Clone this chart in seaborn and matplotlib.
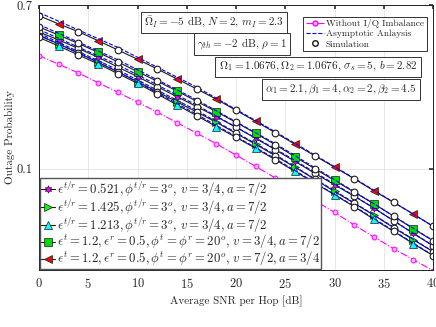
import numpy as np
import matplotlib
matplotlib.use('Agg')
import matplotlib.pyplot as plt
from matplotlib.lines import Line2D
from matplotlib.ticker import NullLocator
import seaborn as sns

sns.set_theme(style='whitegrid')
plt.rcParams['font.family'] = ['cmr10', 'DejaVu Serif']
plt.rcParams['mathtext.fontset'] = 'cm'
plt.rcParams['axes.formatter.use_mathtext'] = True

snr = [0, 2, 4, 6, 8, 10, 12, 14, 16, 18, 20, 22, 24, 26, 28, 30, 32, 34, 36, 38, 40]

no_iq = [0.3835, 0.346, 0.312, 0.278, 0.248, 0.2206, 0.196, 0.173, 0.1527, 0.1344, 0.1176,
         0.1027, 0.0895, 0.0783, 0.0684, 0.0595, 0.0512, 0.0444, 0.0387, 0.0339, 0.0298]
# v=7/2, a=3/4 (red)
red = [0.6164, 0.5587, 0.5097, 0.4581, 0.4102, 0.3673, 0.3273, 0.2908, 0.2582, 0.2286, 0.2001,
       0.1756, 0.1532, 0.1337, 0.1166, 0.1019, 0.0887, 0.0769, 0.0670, 0.0584, 0.0504]
green_sq = [0.539, 0.490, 0.443, 0.399, 0.356, 0.317, 0.283, 0.252, 0.223, 0.197, 0.1735,
            0.1523, 0.1329, 0.1152, 0.0999, 0.0870, 0.0757, 0.0659, 0.0569, 0.0490, 0.0425]
magenta = [0.508, 0.462, 0.4175, 0.376, 0.335, 0.2987, 0.2652, 0.2355, 0.2093, 0.1858, 0.1636,
           0.1435, 0.1252, 0.1090, 0.0947, 0.0826, 0.0721, 0.0627, 0.0539, 0.0463, 0.0400]
green_tri = [0.487, 0.4405, 0.396, 0.354, 0.316, 0.2815, 0.250, 0.2213, 0.1965, 0.1735, 0.1523,
             0.1336, 0.1166, 0.1017, 0.0882, 0.0763, 0.0663, 0.0575, 0.0496, 0.0430, 0.0373]
cyan = [0.476, 0.430, 0.3865, 0.3475, 0.310, 0.276, 0.2432, 0.2136, 0.188, 0.165, 0.1452,
        0.1274, 0.1112, 0.0968, 0.0843, 0.0734, 0.0637, 0.0548, 0.0475, 0.0410, 0.0356]

snr_asym = [0, 8, 16, 24, 32, 40]
asym_red = [0.64, 0.423, 0.264, 0.155, 0.0893, 0.0505]
asym_green_sq = [0.555, 0.365, 0.227, 0.1345, 0.0762, 0.0426]
asym_magenta = [0.523, 0.344, 0.213, 0.1265, 0.0725, 0.0401]
asym_green_tri = [0.50, 0.324, 0.20, 0.118, 0.0667, 0.0374]
asym_cyan = [0.49, 0.318, 0.191, 0.1125, 0.064, 0.0357]

labels = [
    r'$\epsilon^{t/r}=0.521, \phi^{t/r}=3^o,\, v=3/4, a=7/2$',
    r'$\epsilon^{t/r}=1.425, \phi^{t/r}=3^o,\, v=3/4, a=7/2$',
    r'$\epsilon^{t/r}=1.213, \phi^{t/r}=3^o,\, v=3/4, a=7/2$',
    r'$\epsilon^{t}=1.2, \epsilon^{r}=0.5, \phi^{t}=\phi^{r}=20^o,\, v=3/4, a=7/2$',
    r'$\epsilon^{t}=1.2, \epsilon^{r}=0.5, \phi^{t}=\phi^{r}=20^o,\, v=7/2, a=3/4$',
]
curves = [magenta, green_tri, cyan, green_sq, red]
asyms = [asym_magenta, asym_green_tri, asym_cyan, asym_green_sq, asym_red]
marks = [(6, 1, 0), '>', '^', 's', '<']
faces = ['#ff00ff', '#00ff00', '#00ffff', '#00dd00', '#ff0000']

W, H = 436, 327
fig = plt.figure(figsize=(W / 100, H / 100), dpi=100)
ax = fig.add_axes([39 / W, 57 / H, 394 / W, 265 / H])

sns.lineplot(x=snr, y=no_iq, ax=ax, color='#ff00ff', linestyle='-.', lw=0.8,
             marker='o', ms=3.5, mfc='#ffb0ff', mec='#ff00ff', mew=0.7)

for vals, m, fc in zip(curves, marks, faces):
    sns.lineplot(x=snr, y=vals, ax=ax, color='k', lw=0.8, marker=m, ms=5.3,
                 mfc=fc, mec='k', mew=0.5, markevery=slice(1, None, 2))
for vals in asyms:
    sns.lineplot(x=snr_asym, y=vals, ax=ax, color='#0000ff', linestyle='--', lw=0.8)
for vals in curves:
    sns.lineplot(x=snr, y=vals, ax=ax, color='k', linestyle='', marker='o', ms=4.8,
                 mfc='white', mec='k', mew=0.8, markevery=slice(0, None, 2))

ax.set_yscale('log')
ax.set_xlim(0, 40)
ax.set_ylim(0.03, 0.7)
ax.set_xticks(range(0, 41, 5))
ax.set_yticks([0.1, 0.7])
ax.set_yticklabels(['0.1', '0.7'])
ax.yaxis.set_minor_locator(NullLocator())
ax.tick_params(axis='both', which='major', labelsize=9, direction='in', length=3,
               top=True, right=True, color='#333333', pad=5)
ax.grid(True, color='#e4e4e4', lw=0.6)
for s in ax.spines.values():
    s.set_color('#222222')
    s.set_linewidth(0.7)
ax.set_xlabel('Average SNR per Hop [dB]', fontsize=8, labelpad=3)
ax.set_ylabel('Outage Probability', fontsize=8, labelpad=1)

h1 = [Line2D([], [], color='k', lw=0.8, marker=m, ms=5.3, mfc=fc, mec='k', mew=0.5)
      for m, fc in zip(marks, faces)]
leg1 = ax.legend(h1, labels, loc='lower left', fontsize=9.2, handlelength=1.1,
                 handletextpad=0.15, labelspacing=-0.12, borderpad=0.1, borderaxespad=0.05,
                 frameon=True, fancybox=False, edgecolor='#555555', framealpha=1)
leg1.get_frame().set_linewidth(1.0)
ax.add_artist(leg1)

h2 = [Line2D([], [], color='#ff00ff', linestyle='-.', lw=0.8, marker='o', ms=3.5,
             mfc='#ffb0ff', mec='#ff00ff'),
      Line2D([], [], color='#0000ff', linestyle='--', lw=0.8),
      Line2D([], [], color='k', linestyle='', marker='o', ms=4, mfc='white', mec='k')]
leg2 = ax.legend(h2, ['Without I/Q Imbalance', 'Asymptotic Anlaysis', 'Simulation'],
                 loc='upper right', bbox_to_anchor=(0.996, 0.974), fontsize=6.8,
                 handlelength=1.9, handletextpad=0.2, labelspacing=0.15, borderpad=0.3,
                 frameon=True, fancybox=False, edgecolor='#333333', framealpha=1)
leg2.get_frame().set_linewidth(0.7)

box = dict(boxstyle='square,pad=0.3', fc='white', ec='#333333', lw=0.7)
notes = [
    (214, 22.5, r'$\bar{\Omega}_I=-5$ dB, $N=2$, $m_I=2.3$'),
    (242, 44, r'$\gamma_{th}=-2$ dB, $\rho=1$'),
    (318, 66.7, r'$\Omega_1=1.0676, \Omega_2=1.0676,\, \sigma_s=5,\, b=2.82$'),
    (340.7, 89.7, r'$\alpha_1=2.1, \beta_1=4, \alpha_2=2, \beta_2=4.5$'),
]
for px, py, s in notes:
    fig.text(px / W, 1 - py / H, s, fontsize=8, ha='center', va='center', bbox=box)

fig.savefig('out.png', dpi=100)
